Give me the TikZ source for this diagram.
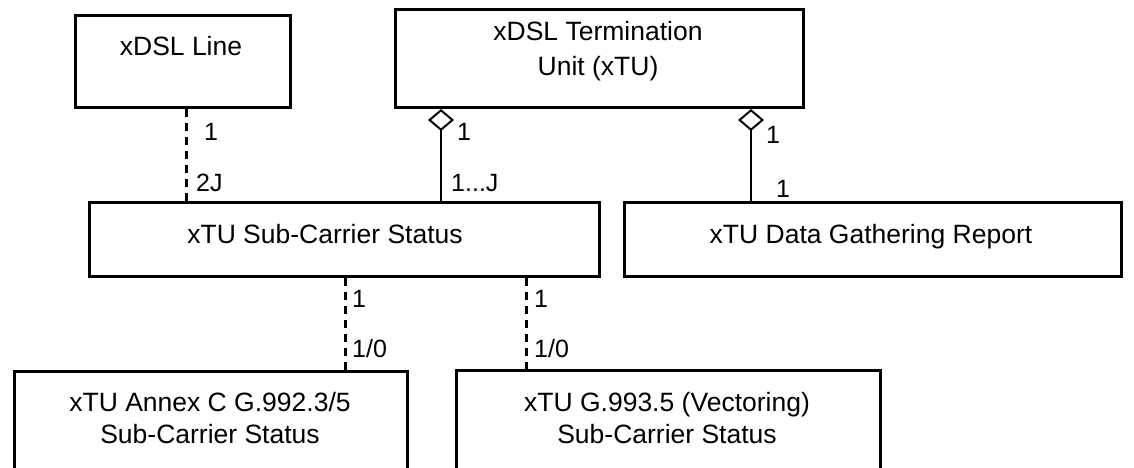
\documentclass[tikz,border=0pt]{standalone}
\usepackage{fontspec}
\setmainfont{Liberation Sans}
\usetikzlibrary{arrows.meta,calc}
\begin{document}
\begin{tikzpicture}[x=1pt,y=-1pt,
  box/.style={draw,line width=3pt,rectangle,anchor=north west,inner sep=0pt},
  boxtext/.style={font=\fontsize{26.5}{30}\selectfont,anchor=base,inner sep=0pt},
  mult/.style={font=\fontsize{25}{29}\selectfont,anchor=base west,inner sep=0pt},
  dashedcon/.style={line width=3pt,dash pattern=on 8pt off 6pt},
  solidcon/.style={line width=2pt},
  agg/.style={solidcon,{Diamond[open,length=22pt,width=26pt,line width=2pt]}-}
]
\useasboundingbox (0,0) rectangle (1134,468);
\clip (0,0) rectangle (1134,468);
\fill[white] (0,0) rectangle (1134,468);
% boxes
\node[box,minimum width=215pt,minimum height=92pt] (line) at (74,14) {};
\node[box,minimum width=408pt,minimum height=98pt] (tu) at (394,8) {};
\node[box,minimum width=510pt,minimum height=74pt] (sub) at (88,201) {};
\node[box,minimum width=497pt,minimum height=74pt] (dgr) at (623,201) {};
\node[box,minimum width=393pt,minimum height=140pt] (annc) at (13,370) {};
\node[box,minimum width=424pt,minimum height=140pt] (vect) at (455,369) {};
% box texts
\node[boxtext] (tline) at (181,56) {xDSL Line};
\node[boxtext] (ttu1) at (598,41) {xDSL Termination};
\node[boxtext] (ttu2) at (598,76) {Unit (xTU)};
\node[boxtext] (tsub) at (325,243) {xTU Sub-Carrier Status};
\node[boxtext] (tdgr) at (871,243) {xTU Data Gathering Report};
\node[boxtext] (tann1) at (210,411) {xTU Annex C G.992.3/5};
\node[boxtext] (tann2) at (210,443) {Sub-Carrier Status};
\node[boxtext] (tvec1) at (667,411) {xTU G.993.5 (Vectoring)};
\node[boxtext] (tvec2) at (667,443) {Sub-Carrier Status};
% connector endpoints
\coordinate (c1) at ($(line.south west)+(112,0)$);
\coordinate (c2) at ($(tu.south west)+(47,0)$);
\coordinate (c3) at ($(tu.south west)+(357,0)$);
\coordinate (c4) at ($(sub.south west)+(257,0)$);
\coordinate (c5) at ($(sub.south west)+(438,0)$);
% connectors
\draw[dashedcon] (c1) -- (c1 |- sub.north);
\draw[agg] (c2) -- (c2 |- sub.north);
\draw[agg] (c3) -- (c3 |- dgr.north);
\draw[dashedcon] (c4) -- (c4 |- annc.north);
\draw[dashedcon] (c5) -- (c5 |- vect.north);
% multiplicities
\node[mult] (m1) at (204,140) {1};
\node[mult] (m2) at (196,191) {2J};
\node[mult] (m3) at (457,140) {1};
\node[mult] (m4) at (451,191) {1...J};
\node[mult] (m5) at (766,143) {1};
\node[mult] (m6) at (776,197) {1};
\node[mult] (m7) at (352,307) {1};
\node[mult] (m8) at (352,357) {1/0};
\node[mult] (m9) at (534,307) {1};
\node[mult] (m10) at (534,357) {1/0};
\end{tikzpicture}
\end{document}
